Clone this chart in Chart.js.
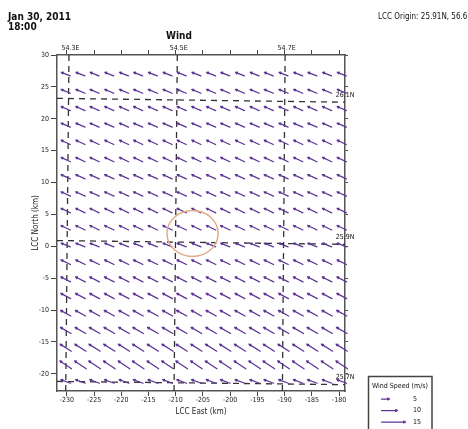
<!DOCTYPE html>
<html>
<head>
<meta charset="utf-8">
<script src="https://cdn.jsdelivr.net/npm/chart.js@4.4.1/dist/chart.umd.min.js"></script>
<style>
  body { margin: 0; background: #fff; }
  #wrap { position: relative; width: 468px; height: 429px; overflow: hidden; }
  #graph { position: absolute; left: 0; top: 0; }
  .note { position: absolute; font-family: 'Liberation Sans Narrow', 'Arial Narrow', 'DejaVu Sans Condensed', sans-serif; color: #111; white-space: nowrap; }
</style>
</head>
<body>
<div id="wrap">
  <canvas id="graph" width="468" height="429"></canvas>
  <div class="note" style="left:8px;top:12px;font-size:10px;font-weight:bold;line-height:10px">Jan 30, 2011<br>18:00</div>
  <div class="note" style="left:166px;top:30px;font-size:10px;font-weight:bold">Wind</div>
  <div class="note" style="left:378px;top:12px;font-size:8px">LCC Origin: 25.91N, 56.60E</div>
</div>
<script>
// axis ticks (km)
const xTicks = [-230, -225, -220, -215, -210, -205, -200, -195, -190, -185, -180];
const yTicks = [-20, -15, -10, -5, 0, 5, 10, 15, 20, 25, 30];

// wind grid points (km)
const gridX = [-230.2, -227.5, -224.9, -222.2, -219.5, -216.9, -214.2, -211.5, -208.9, -206.2,
               -203.5, -200.9, -198.2, -195.5, -192.9, -190.2, -187.5, -184.9, -182.2, -179.5];
const gridY = [27.0, 24.3, 21.6, 19.0, 16.3, 13.6, 10.9, 8.2, 5.6, 2.9,
               0.2, -2.5, -5.2, -7.8, -10.5, -13.2, -15.9, -18.6, -21.2];

// wind per row, top to bottom: speed (m/s) and direction it blows from (deg)
const rowSpeed   = [6.0, 6.2, 6.3, 6.3, 6.3, 6.4, 6.4, 6.5, 6.5, 6.5, 6.2, 6.6, 6.8, 7.0, 7.3, 7.7, 8.3, 8.8, 6.5];
const rowDirFrom = [112, 113, 114, 114, 115, 115, 115, 115, 116, 116, 112, 116, 117, 118, 119, 120, 122, 124, 110];

// lat / lon lines
const lonLabels = ['54.3E', '54.5E', '54.7E'];
const lonLineX = [[-229.6, -230.2], [-209.7, -210.3], [-189.9, -190.4]]; // top, bottom
const latLabels = ['26.1N', '25.9N', '25.7N'];
const latLineY = [[23.2, 22.6], [0.9, 0.3], [-21.2, -21.7]];            // left, right

// site ring
const siteCenter = [-206.9, 2.0];
const siteRadius = [4.7, 3.6];

const legendSpeeds = [5, 10, 15];

const X_MIN = -231.8, X_MAX = -178.9, Y_MIN = -22.7, Y_MAX = 30;
const PX_PER_MS = 1.6;
const FONT = "'Liberation Sans Narrow', 'Arial Narrow', 'DejaVu Sans Condensed', sans-serif";
const ARROW = '#5d3496';

const arrowPts = [];
gridY.forEach((y, r) => {
  gridX.forEach(x => arrowPts.push({ x: x, y: y, s: rowSpeed[r], d: rowDirFrom[r] }));
});

const datasets = [];
lonLineX.forEach(l => datasets.push({
  data: [{ x: l[0], y: Y_MAX }, { x: l[1], y: Y_MIN }],
  showLine: true, borderColor: '#333', borderWidth: 1.3, borderDash: [6, 5], pointRadius: 0
}));
latLineY.forEach(l => datasets.push({
  data: [{ x: X_MIN, y: l[0] }, { x: X_MAX, y: l[1] }],
  showLine: true, borderColor: '#333', borderWidth: 1.3, borderDash: [6, 5], pointRadius: 0
}));
const arrowIndex = datasets.length;
datasets.push({ data: arrowPts, pointRadius: 0, showLine: false });

function drawArrow(ctx, cx, cy, len, dirFrom) {
  const a = (dirFrom + 180) * Math.PI / 180;
  const dx = Math.sin(a), dy = -Math.cos(a);
  const tx = cx - dx * len / 2, ty = cy - dy * len / 2;
  const hx = cx + dx * len / 2, hy = cy + dy * len / 2;
  ctx.beginPath();
  ctx.moveTo(tx, ty);
  ctx.lineTo(hx, hy);
  const back = Math.atan2(-dy, -dx);
  [0.45, -0.45].forEach(o => {
    ctx.moveTo(hx, hy);
    ctx.lineTo(hx + 2 * Math.cos(back + o), hy + 2 * Math.sin(back + o));
  });
  ctx.stroke();
}

const windPlugin = {
  id: 'wind',
  afterDatasetsDraw(chart) {
    const ctx = chart.ctx;
    const xs = chart.scales.x, ys = chart.scales.y;
    ctx.save();
    ctx.strokeStyle = ARROW;
    ctx.lineWidth = 1.25;
    ctx.lineCap = 'round';
    chart.getDatasetMeta(arrowIndex).data.forEach((pt, i) => {
      drawArrow(ctx, pt.x, pt.y, arrowPts[i].s * PX_PER_MS, arrowPts[i].d);
    });

    // site ring
    const cx = xs.getPixelForValue(siteCenter[0]), cy = ys.getPixelForValue(siteCenter[1]);
    const rx = Math.abs(xs.getPixelForValue(siteCenter[0] + siteRadius[0]) - cx);
    const ry = Math.abs(ys.getPixelForValue(siteCenter[1] + siteRadius[1]) - cy);
    ctx.strokeStyle = '#e2ab88';
    ctx.lineWidth = 1.5;
    ctx.beginPath();
    ctx.ellipse(cx, cy, rx, ry, 0, 0, Math.PI * 2);
    ctx.stroke();

    // lon / lat labels
    ctx.fillStyle = '#111';
    ctx.font = '7px ' + FONT;
    ctx.textAlign = 'center';
    ctx.textBaseline = 'middle';
    lonLineX.forEach((l, i) => ctx.fillText(lonLabels[i], xs.getPixelForValue(l[0]) + 1.5, 48));
    latLineY.forEach((l, i) => ctx.fillText(latLabels[i], chart.chartArea.right, ys.getPixelForValue(l[1]) - 7));

    // legend
    ctx.strokeStyle = '#444';
    ctx.lineWidth = 1.5;
    ctx.strokeRect(368.5, 376.5, 63.5, 70);
    ctx.textAlign = 'left';
    ctx.fillText('Wind Speed (m/s)', 372, 386);
    legendSpeeds.forEach((s, i) => {
      const y = 399 + i * 11.5;
      const len = s * PX_PER_MS;
      ctx.strokeStyle = ARROW;
      ctx.lineWidth = 1.25;
      drawArrow(ctx, 381.5 + len / 2, y, len, 270);
      ctx.fillText(String(s), 413, y);
    });
    ctx.restore();
  }
};

const tickFont = { family: FONT, size: 7 };
const gridOpts = (len) => ({ drawOnChartArea: false, drawTicks: true, tickLength: len, color: '#444', lineWidth: 1 });
const borderOpts = { color: '#555', width: 1.5 };

new Chart(document.getElementById('graph'), {
  type: 'scatter',
  data: { datasets: datasets },
  options: {
    responsive: false,
    animation: false,
    layout: { padding: 0 },
    plugins: { legend: { display: false }, tooltip: { enabled: false } },
    scales: {
      x: {
        type: 'linear', position: 'bottom', min: X_MIN, max: X_MAX,
        afterBuildTicks: s => { s.ticks = xTicks.map(v => ({ value: v })); },
        afterFit: s => { s.height = 38; },
        grid: gridOpts(5), border: borderOpts,
        ticks: { font: tickFont, color: '#222', padding: 0, maxRotation: 0, autoSkip: false },
        title: { display: true, text: 'LCC East (km)', font: { family: FONT, size: 8 }, color: '#222', padding: { top: 0, bottom: 12 } }
      },
      x2: {
        type: 'linear', position: 'top', min: X_MIN, max: X_MAX,
        afterBuildTicks: s => { s.ticks = xTicks.map(v => ({ value: v })); },
        afterFit: s => { s.height = 55; },
        grid: gridOpts(5), border: borderOpts,
        ticks: { callback: () => '', font: tickFont, autoSkip: false }
      },
      y: {
        type: 'linear', position: 'left', min: Y_MIN, max: Y_MAX,
        afterBuildTicks: s => { s.ticks = yTicks.map(v => ({ value: v })); },
        afterFit: s => { s.width = 57; },
        grid: gridOpts(6), border: borderOpts,
        ticks: { font: tickFont, color: '#222', padding: 2, autoSkip: false },
        title: { display: true, text: 'LCC North (km)', font: { family: FONT, size: 8 }, color: '#222', padding: { top: 31, bottom: 0 } }
      },
      y2: {
        type: 'linear', position: 'right', min: Y_MIN, max: Y_MAX,
        afterBuildTicks: s => { s.ticks = yTicks.map(v => ({ value: v })); },
        afterFit: s => { s.width = 123; },
        grid: gridOpts(3), border: borderOpts,
        ticks: { callback: () => '', font: tickFont, autoSkip: false }
      }
    }
  },
  plugins: [windPlugin]
});
</script>
</body>
</html>
